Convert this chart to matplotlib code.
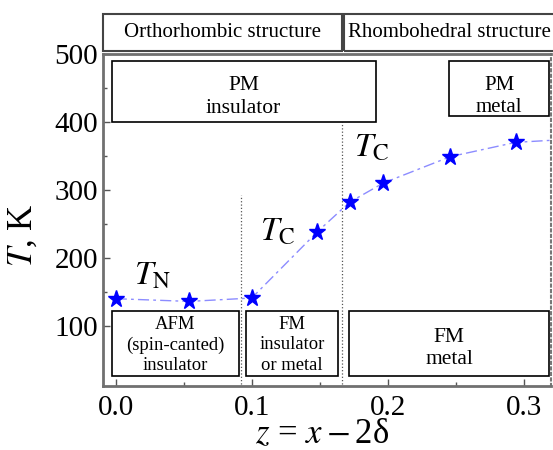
import numpy as np
import matplotlib.pyplot as plt
from matplotlib.patches import Rectangle

plt.rcParams['font.family'] = ['Liberation Serif', 'DejaVu Serif']
plt.rcParams['mathtext.fontset'] = 'stix'

# data
z = [0.0, 0.054, 0.100, 0.148, 0.172, 0.1965, 0.246, 0.294]
T = [140, 136, 141, 238, 282, 310, 349, 370]

# dashed guide curve continues to the right edge
curve_z = z + [0.320]
curve_T = T + [373]

# phase boundaries (dotted lines): x, top of the line
bound_x = [0.0921, 0.1666]
bound_top = [292, 400]

# phase boxes: (x0, x1, y0, y1)
box_x0 = [-0.003, 0.245, -0.003, 0.0958, 0.1715]
box_x1 = [0.191, 0.3186, 0.0909, 0.1635, 0.3186]
box_y0 = [400, 409, 26, 26, 26]
box_y1 = [489, 489, 122, 122, 122]
box_text = ['PM\ninsulator', 'PM\nmetal', 'AFM\n(spin-canted)\ninsulator',
            'FM\ninsulator\nor metal', 'FM\nmetal']
text_y = [437, 437, 72, 72, 67]
text_size = [15.5, 15, 13.4, 13.4, 15.5]
text_ls = [1.25, 1.2, 1.25, 1.25, 1.25]

fig = plt.figure(figsize=(5.53, 4.5), dpi=100)
ax = fig.add_axes([0.1857, 0.1429, 0.8107, 0.7371])

ax.plot(curve_z, curve_T, color='#8c8cff', lw=1.0, dashes=(8, 3, 2, 3), zorder=2)
ax.plot(z, T, ls='none', marker='*', ms=12.5, color='#0000ff', mec='#0000ff', zorder=3)

for bx, bt in zip(bound_x, bound_top):
    ax.plot([bx, bx], [0, bt], ls=':', color='#555555', lw=0.9, zorder=1)

for x0, x1, y0, y1, s, ty, fs, ls in zip(box_x0, box_x1, box_y0, box_y1, box_text,
                                        text_y, text_size, text_ls):
    ax.add_patch(Rectangle((x0, y0), x1 - x0, y1 - y0, fill=False,
                           ec='black', lw=1.2, zorder=1))
    ax.text((x0 + x1) / 2, ty, s, ha='center', va='center',
            fontsize=fs, linespacing=ls)

# Tn / Tc labels
ax.text(0.027, 173, r'$T_{\mathrm{N}}$', fontsize=24, ha='center', va='center')
ax.text(0.119, 238, r'$T_{\mathrm{C}}$', fontsize=24, ha='center', va='center')
ax.text(0.188, 361, r'$T_{\mathrm{C}}$', fontsize=24, ha='center', va='center')

# structure header boxes above the plot
ax.add_patch(Rectangle((-0.0093, 505), 0.1759, 54, fill=False, ec='#444444',
                       lw=1.5, clip_on=False))
ax.add_patch(Rectangle((0.168, 505), 0.2, 54, fill=False, ec='#444444',
                       lw=1.5, clip_on=False))
ax.text(0.0787, 532, 'Orthorhombic structure', ha='center', va='center', fontsize=15)
ax.text(0.1705, 532, 'Rhombohedral structure', ha='left', va='center', fontsize=15)

ax.set_xlim(-0.0096, 0.320)
ax.set_ylim(12, 500)
ax.set_xticks([0.0, 0.1, 0.2, 0.3])
ax.set_xticks([0.05, 0.15, 0.25], minor=True)
ax.set_yticks([100, 200, 300, 400, 500])
ax.set_yticks([150, 250, 350, 450], minor=True)
ax.set_xticklabels(['0.0', '0.1', '0.2', '0.3'])
ax.tick_params(which='both', direction='in', labelsize=21, color='#555555')
ax.tick_params(which='major', length=5, width=1)
ax.tick_params(which='minor', length=3, width=1)
ax.tick_params(axis='x', pad=7)

for s in ['left', 'bottom', 'top']:
    ax.spines[s].set_color('#707070')
    ax.spines[s].set_linewidth(2)
ax.spines['right'].set_linestyle(':')
ax.spines['right'].set_color('#777777')
ax.spines['right'].set_linewidth(1.5)

ax.set_xlabel(r'$z$ = $x-$2δ', fontsize=25)
ax.set_ylabel(r'$T$, K', fontsize=25)
ax.xaxis.set_label_coords(0.4885, -0.098)
ax.yaxis.set_label_coords(-0.14, 0.455)

fig.savefig('out.png', dpi=100)
